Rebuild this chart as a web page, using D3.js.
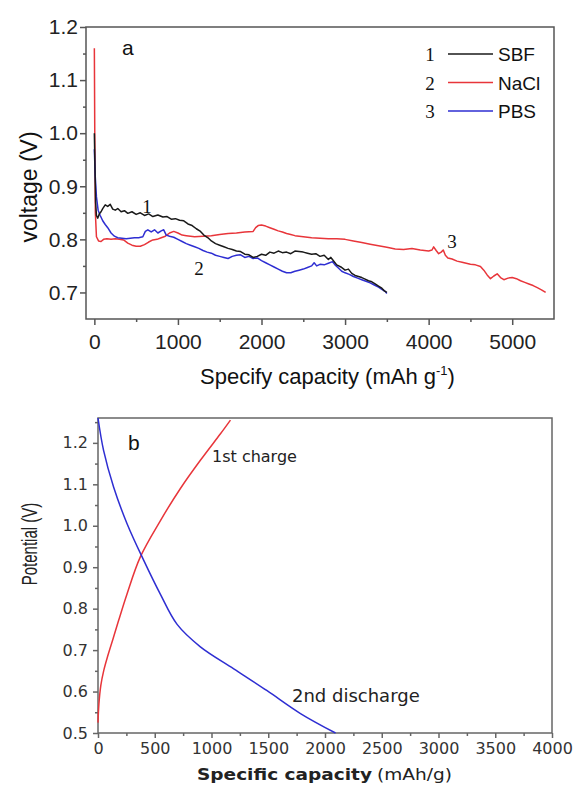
<!DOCTYPE html>
<html>
<head>
<meta charset="utf-8">
<script src="https://cdnjs.cloudflare.com/ajax/libs/d3/7.8.5/d3.min.js"></script>
<style>
body { margin: 0; background: #fff; }
svg { display: block; }
</style>
</head>
<body>
<div id="chart"></div>
<script>

// panel a : discharge curves in three electrolytes  [capacity, voltage]
var sbfData = [
  [0, 1.00], [8, 0.93], [15, 0.87], [25, 0.845], [40, 0.84], [60, 0.848], [80, 0.852], [100, 0.858],
  [130, 0.865], [160, 0.862], [190, 0.866], [220, 0.857], [250, 0.855], [280, 0.858], [320, 0.852],
  [360, 0.854], [400, 0.849], [450, 0.852], [500, 0.847], [550, 0.85], [600, 0.845], [650, 0.848],
  [700, 0.843], [760, 0.846], [820, 0.842], [870, 0.843], [920, 0.838], [970, 0.839], [1020, 0.836],
  [1070, 0.835], [1120, 0.829], [1170, 0.826], [1220, 0.82], [1270, 0.815], [1310, 0.808], [1360, 0.803],
  [1400, 0.797], [1450, 0.792], [1500, 0.789], [1550, 0.786], [1600, 0.783], [1650, 0.781], [1700, 0.778],
  [1750, 0.777], [1800, 0.772], [1850, 0.771], [1900, 0.766], [1950, 0.768], [2000, 0.772], [2050, 0.77],
  [2100, 0.776], [2150, 0.774], [2200, 0.778], [2250, 0.775], [2300, 0.776], [2350, 0.773], [2400, 0.778],
  [2450, 0.777], [2500, 0.776], [2550, 0.774], [2600, 0.772], [2650, 0.773], [2700, 0.768], [2750, 0.77],
  [2800, 0.762], [2830, 0.766], [2870, 0.758], [2900, 0.752], [2950, 0.748], [3000, 0.742], [3040, 0.744],
  [3080, 0.736], [3120, 0.732], [3160, 0.73], [3200, 0.728], [3240, 0.725], [3280, 0.722], [3320, 0.72],
  [3360, 0.716], [3400, 0.712], [3440, 0.708], [3470, 0.703], [3500, 0.7]
];
var naclData = [
  [0, 1.16], [5, 1.0], [12, 0.85], [25, 0.805], [50, 0.797], [80, 0.796], [110, 0.8], [150, 0.801],
  [200, 0.8], [250, 0.801], [300, 0.8], [350, 0.799], [400, 0.793], [450, 0.789], [500, 0.787], [550, 0.787],
  [600, 0.79], [650, 0.795], [700, 0.799], [750, 0.8], [800, 0.803], [850, 0.806], [900, 0.812], [950, 0.815],
  [1000, 0.812], [1050, 0.808], [1100, 0.807], [1150, 0.806], [1200, 0.805], [1300, 0.806], [1400, 0.807],
  [1500, 0.809], [1600, 0.811], [1700, 0.812], [1800, 0.814], [1900, 0.815], [1930, 0.822], [1960, 0.826],
  [2000, 0.827], [2050, 0.825], [2100, 0.822], [2150, 0.819], [2200, 0.816], [2250, 0.814], [2300, 0.811],
  [2350, 0.809], [2400, 0.807], [2500, 0.805], [2600, 0.803], [2700, 0.802], [2800, 0.801], [2900, 0.801],
  [3000, 0.8], [3100, 0.797], [3200, 0.794], [3300, 0.791], [3400, 0.788], [3500, 0.785], [3600, 0.782],
  [3700, 0.781], [3800, 0.783], [3900, 0.78], [4000, 0.778], [4040, 0.78], [4060, 0.786], [4090, 0.779],
  [4120, 0.773], [4150, 0.776], [4175, 0.78], [4200, 0.77], [4230, 0.765], [4280, 0.763], [4340, 0.759],
  [4400, 0.757], [4450, 0.755], [4500, 0.753], [4560, 0.752], [4620, 0.749], [4660, 0.742], [4700, 0.733],
  [4740, 0.726], [4780, 0.731], [4820, 0.735], [4860, 0.728], [4900, 0.724], [4950, 0.727], [5000, 0.728],
  [5050, 0.726], [5100, 0.722], [5150, 0.719], [5200, 0.716], [5250, 0.713], [5300, 0.709], [5350, 0.705],
  [5400, 0.7]
];
var pbsData = [
  [0, 0.97], [10, 0.92], [25, 0.88], [45, 0.855], [70, 0.845], [100, 0.835], [130, 0.828], [160, 0.822],
  [200, 0.812], [240, 0.806], [280, 0.803], [330, 0.802], [380, 0.801], [430, 0.802], [480, 0.803],
  [530, 0.803], [580, 0.805], [610, 0.815], [640, 0.818], [680, 0.814], [720, 0.818], [760, 0.812],
  [800, 0.816], [830, 0.818], [860, 0.808], [900, 0.806], [950, 0.804], [1000, 0.8], [1050, 0.796],
  [1100, 0.792], [1150, 0.789], [1200, 0.786], [1250, 0.783], [1300, 0.779], [1350, 0.776], [1400, 0.774],
  [1450, 0.77], [1500, 0.768], [1550, 0.766], [1600, 0.764], [1650, 0.768], [1700, 0.77], [1750, 0.771],
  [1800, 0.766], [1850, 0.768], [1900, 0.764], [1950, 0.765], [2000, 0.76], [2050, 0.756], [2100, 0.752],
  [2150, 0.748], [2200, 0.744], [2250, 0.74], [2300, 0.737], [2350, 0.737], [2400, 0.74], [2450, 0.742],
  [2500, 0.744], [2550, 0.747], [2600, 0.75], [2630, 0.756], [2660, 0.75], [2700, 0.753], [2750, 0.752],
  [2800, 0.755], [2850, 0.758], [2880, 0.752], [2920, 0.746], [2960, 0.74], [3000, 0.737], [3050, 0.734],
  [3100, 0.73], [3150, 0.727], [3200, 0.724], [3250, 0.721], [3300, 0.718], [3350, 0.714], [3400, 0.71],
  [3440, 0.706], [3480, 0.702], [3500, 0.698]
];
var legendNums = ["1", "2", "3"];
var legendNames = ["SBF", "NaCl", "PBS"];

// panel b : first charge / second discharge  [capacity, potential]
var chargeData = [
  [0, 0.525], [8, 0.57], [25, 0.615], [50, 0.65], [85, 0.685], [130, 0.725], [180, 0.77], [255, 0.835],
  [373, 0.925], [549, 1.012], [726, 1.09], [902, 1.158], [1079, 1.222], [1167, 1.255]
];
var dischargeData = [
  [0, 1.26], [49, 1.182], [138, 1.093], [256, 1.005], [402, 0.917], [549, 0.835], [697, 0.762],
  [902, 0.708], [1196, 0.655], [1490, 0.602], [1784, 0.547], [2093, 0.5]
];

var aXTicks = [0, 1000, 2000, 3000, 4000, 5000];
var aXMinor = [500, 1500, 2500, 3500, 4500];
var aYTicks = [0.7, 0.8, 0.9, 1.0, 1.1, 1.2];
var aYMinor = [0.75, 0.85, 0.95, 1.05, 1.15];
var bXTicks = [0, 500, 1000, 1500, 2000, 2500, 3000, 3500, 4000];
var bXMinor = [250, 750, 1250, 1750, 2250, 2750, 3250, 3750];
var bYTicks = [0.5, 0.6, 0.7, 0.8, 0.9, 1.0, 1.1, 1.2];
var bYMinor = [0.55, 0.65, 0.75, 0.85, 0.95, 1.05, 1.15, 1.25];

var black = "#1a1a1a";
var red = "#e8353a";
var blue = "#2e2ed2";

var svg = d3.select("#chart").append("svg").attr("width", 574).attr("height", 792);

function addAxis(axis, tx, ty, color) {
  var g = svg.append("g")
    .attr("transform", "translate(" + tx + "," + ty + ")")
    .call(axis);
  g.select(".domain").remove();
  g.selectAll("line").attr("stroke", color).attr("stroke-width", 1.5);
  return g;
}

// ---------- panel a ----------
var xA = d3.scaleLinear().domain([-100, 5500]).range([86, 554]);
var yA = d3.scaleLinear().domain([0.65, 1.2]).range([319, 27]);

addAxis(d3.axisBottom(xA).tickValues(aXMinor).tickSize(3).tickFormat(""), 0, 319, "#555");
addAxis(d3.axisLeft(yA).tickValues(aYMinor).tickSize(3).tickFormat(""), 86, 0, "#555");
var axA = addAxis(d3.axisBottom(xA).tickValues(aXTicks).tickSize(6).tickPadding(9).tickFormat(d3.format("d")), 0, 319, "#555");
var ayA = addAxis(d3.axisLeft(yA).tickValues(aYTicks).tickSize(6).tickPadding(2).tickFormat(d3.format(".1f")), 86, 0, "#555");
[axA, ayA].forEach(function(g){
  g.selectAll("text")
    .attr("fill", "#222")
    .style("font-family", "'Liberation Sans', Arial, sans-serif")
    .style("font-size", "21px");
});

svg.append("rect")
  .attr("x", 86).attr("y", 27).attr("width", 468).attr("height", 292)
  .attr("fill", "none").attr("stroke", "#555").attr("stroke-width", 1.5);

var lineA = d3.line()
  .x(function(d){ return xA(d[0]); })
  .y(function(d){ return yA(d[1]); });

[[naclData, red], [pbsData, blue], [sbfData, black]].forEach(function(s){
  svg.append("path")
    .datum(s[0])
    .attr("d", lineA)
    .attr("fill", "none")
    .attr("stroke", s[1])
    .attr("stroke-width", 1.5)
    .attr("stroke-linejoin", "round");
});

svg.append("text")
  .attr("x", 122).attr("y", 55)
  .style("font-family", "'Liberation Sans', Arial, sans-serif")
  .style("font-size", "21px")
  .attr("fill", "#111")
  .text("a");

// legend
var legColors = [black, red, blue];
legendNames.forEach(function(name, i){
  var yy = 61 + i * 28.5;
  svg.append("text")
    .attr("x", 430).attr("y", yy)
    .attr("text-anchor", "middle")
    .style("font-family", "'Liberation Serif', 'Times New Roman', serif")
    .style("font-size", "19px")
    .attr("fill", "#111")
    .text(legendNums[i]);
  svg.append("line")
    .attr("x1", 448).attr("x2", 493)
    .attr("y1", yy - 7).attr("y2", yy - 7)
    .attr("stroke", legColors[i]).attr("stroke-width", 1.5);
  svg.append("text")
    .attr("x", 498).attr("y", yy)
    .style("font-family", "'Liberation Sans', Arial, sans-serif")
    .style("font-size", "19px")
    .attr("fill", "#111")
    .text(name);
});

// curve numbers
[["1", 147, 213], ["2", 199, 275], ["3", 452, 248]].forEach(function(t){
  svg.append("text")
    .attr("x", t[1]).attr("y", t[2])
    .attr("text-anchor", "middle")
    .style("font-family", "'Liberation Serif', 'Times New Roman', serif")
    .style("font-size", "19px")
    .attr("fill", "#111")
    .text(t[0]);
});

var xtA = svg.append("text")
  .attr("x", 200).attr("y", 384)
  .style("font-family", "'Liberation Sans', Arial, sans-serif")
  .style("font-size", "22px")
  .attr("fill", "#111");
xtA.append("tspan").text("Specify capacity (mAh g");
xtA.append("tspan").attr("dy", -9).style("font-size", "13px").text("-1");
xtA.append("tspan").attr("dy", 9).text(")");

svg.append("text")
  .attr("transform", "translate(37,187) rotate(-90)")
  .attr("text-anchor", "middle")
  .style("font-family", "'Liberation Sans', Arial, sans-serif")
  .style("font-size", "23px")
  .attr("fill", "#111")
  .text("voltage (V)");

// ---------- panel b ----------
var xB = d3.scaleLinear().domain([0, 4000]).range([98, 552]);
var yB = d3.scaleLinear().domain([0.5, 1.26]).range([733, 418]);

addAxis(d3.axisBottom(xB).tickValues(bXMinor).tickSize(3).tickFormat(""), 0, 733, "#666");
addAxis(d3.axisLeft(yB).tickValues(bYMinor).tickSize(3).tickFormat(""), 98, 0, "#666");
var axB = addAxis(d3.axisBottom(xB).tickValues(bXTicks).tickSize(5).tickPadding(5).tickFormat(d3.format("d")), 0, 733, "#666");
var ayB = addAxis(d3.axisLeft(yB).tickValues(bYTicks).tickSize(5).tickPadding(5).tickFormat(d3.format(".1f")), 98, 0, "#666");
[axB, ayB].forEach(function(g){
  g.selectAll("text")
    .attr("fill", "#333")
    .style("font-family", "'DejaVu Sans', Verdana, sans-serif")
    .style("font-size", "16px");
});

svg.append("rect")
  .attr("x", 98).attr("y", 418).attr("width", 454).attr("height", 315)
  .attr("fill", "none").attr("stroke", "#666").attr("stroke-width", 1.5);

var lineB = d3.line()
  .curve(d3.curveCatmullRom.alpha(0.5))
  .x(function(d){ return xB(d[0]); })
  .y(function(d){ return yB(d[1]); });

[[chargeData, red], [dischargeData, blue]].forEach(function(s){
  svg.append("path")
    .datum(s[0])
    .attr("d", lineB)
    .attr("fill", "none")
    .attr("stroke", s[1])
    .attr("stroke-width", 1.5);
});

svg.append("text")
  .attr("x", 128).attr("y", 450)
  .style("font-family", "'Liberation Sans', Arial, sans-serif")
  .style("font-size", "21px")
  .attr("fill", "#111")
  .text("b");

svg.append("text")
  .attr("x", 212).attr("y", 462)
  .style("font-family", "'DejaVu Sans', Verdana, sans-serif")
  .style("font-size", "16px")
  .attr("fill", "#222")
  .text("1st charge");

svg.append("text")
  .attr("x", 292).attr("y", 702)
  .style("font-family", "'DejaVu Sans', Verdana, sans-serif")
  .style("font-size", "18px")
  .attr("fill", "#222")
  .text("2nd discharge");

svg.append("text")
  .attr("x", 197).attr("y", 780)
  .attr("textLength", 175).attr("lengthAdjust", "spacingAndGlyphs")
  .style("font-family", "'DejaVu Sans', Verdana, sans-serif")
  .style("font-size", "16px")
  .style("font-weight", "bold")
  .attr("fill", "#222")
  .text("Specific capacity");

svg.append("text")
  .attr("x", 377).attr("y", 780)
  .attr("textLength", 75).attr("lengthAdjust", "spacingAndGlyphs")
  .style("font-family", "'DejaVu Sans', Verdana, sans-serif")
  .style("font-size", "15px")
  .attr("fill", "#222")
  .text("(mAh/g)");

// the y title is drawn narrow and tall, as in the source figure
svg.append("text")
  .attr("transform", "translate(37,544) scale(1.5,1) rotate(-90)")
  .attr("text-anchor", "middle")
  .style("font-family", "'Liberation Sans', Arial, sans-serif")
  .style("font-size", "15px")
  .attr("fill", "#222")
  .text("Potential (V)");

</script>
</body>
</html>
